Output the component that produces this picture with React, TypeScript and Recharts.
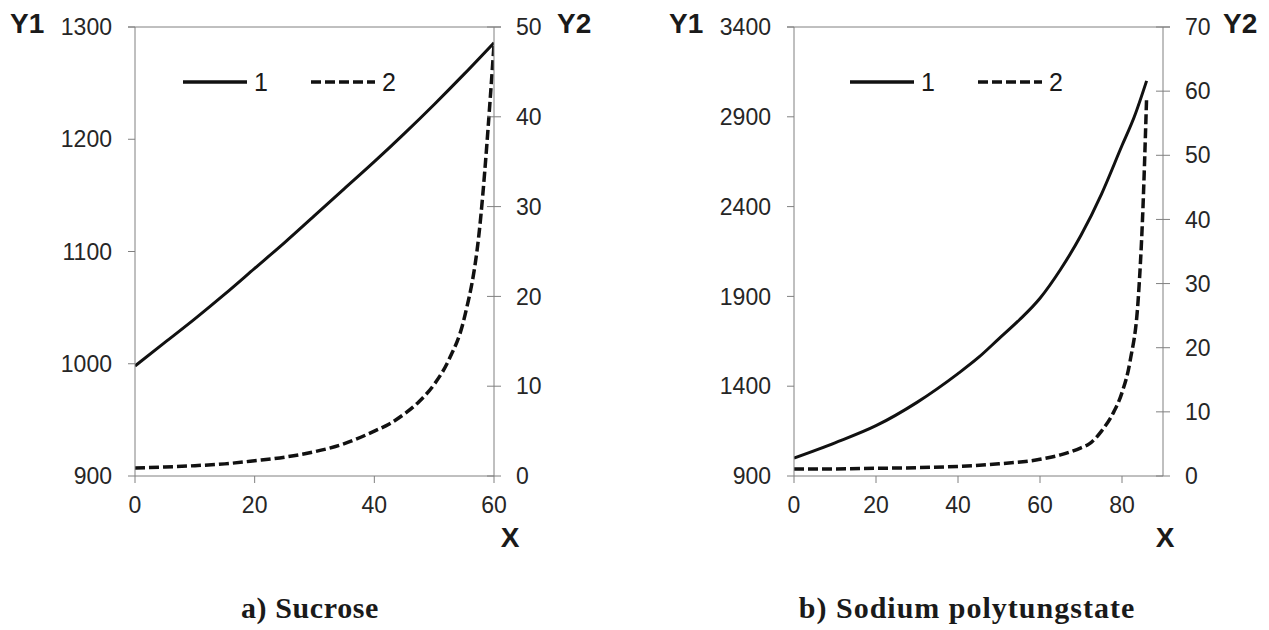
import { LineChart, Line, XAxis, YAxis, Legend, ReferenceLine, Label } from 'recharts';

// a) Sucrose
const sucroseX = [0, 5, 10, 15, 20, 25, 30, 35, 40, 45, 50, 55, 60];
const sucroseDensity = [998, 1019, 1040, 1062, 1085, 1108, 1132, 1156, 1180, 1205, 1231, 1258, 1286];
const sucroseViscX = [0, 5, 10, 15, 20, 25, 30, 35, 40, 42.5, 45, 47.5, 50, 52.5, 55, 57.5, 60];
const sucroseVisc = [0.9, 1.0, 1.15, 1.35, 1.7, 2.1, 2.7, 3.6, 5.0, 5.8, 6.9, 8.3, 10.2, 13, 17.5, 27, 48];

// b) Sodium polytungstate
const sptX = [0, 10, 20, 30, 40, 45, 50, 55, 60, 65, 70, 75, 80, 83, 86];
const sptDensity = [1000, 1085, 1180, 1310, 1470, 1560, 1665, 1770, 1890, 2050, 2240, 2470, 2740, 2900, 3100];
const sptViscX = [0, 10, 20, 30, 40, 50, 60, 65, 70, 72, 75, 78, 80, 82, 84, 85, 86];
const sptVisc = [1.1, 1.1, 1.2, 1.3, 1.5, 1.9, 2.6, 3.3, 4.4, 5, 7, 10, 13, 18, 28, 40, 59];

const sucroseXTicks = [0, 20, 40, 60];
const sucroseY1Ticks = [900, 1000, 1100, 1200, 1300];
const sucroseY2Ticks = [0, 10, 20, 30, 40, 50];
const sptXTicks = [0, 20, 40, 60, 80];
const sptY1Ticks = [900, 1400, 1900, 2400, 2900, 3400];
const sptY2Ticks = [0, 10, 20, 30, 40, 50, 60, 70];

const seriesNames = ['1', '2'];

const toPoints = (xs: number[], ys: number[]) => xs.map((x, i) => ({ x, y: ys[i] }));

const axisColor = '#808080';
const inkColor = '#111111';
const sans = '"Liberation Sans", Arial, sans-serif';
const tickFont = { fontFamily: sans, fontSize: 23, fill: '#262626' };
const titleFont = { fontFamily: sans, fontSize: 28, fontWeight: 700, fill: '#1a1a1a' };
const TICK = 7;

const makeRightTick = (margin: number) => (props: any) => {
  const { x, y, payload } = props;
  const ax = x - TICK - margin;
  return (
    <g>
      <line x1={ax - 7} x2={ax + TICK} y1={y} y2={y} stroke={axisColor} strokeWidth={1} />
      <text x={x} y={y} dy="0.355em" textAnchor="start" {...tickFont}>{payload.value}</text>
    </g>
  );
};

const renderLegend = (props: any) => {
  const items = props.payload || [];
  return (
    <svg width={230} height={40}>
      {items.map((it: any, i: number) => {
        const x0 = i * 128;
        return (
          <g key={i}>
            <line x1={x0} x2={x0 + 64} y1={20} y2={20} stroke={inkColor} strokeWidth={3.5}
              strokeDasharray={it.payload?.strokeDasharray} />
            <text x={x0 + 71} y={29} fontFamily={sans} fontSize={25} fill="#1a1a1a">{it.value}</text>
          </g>
        );
      })}
    </svg>
  );
};

type PanelProps = {
  left: number; width: number; leftAxisW: number; rightAxisW: number;
  density: { x: number; y: number }[]; visc: { x: number; y: number }[];
  xMax: number; xTicks: number[]; y1Ticks: number[]; y2Ticks: number[];
  legendLeft: number; xTitleDx: number; y2TitleDx: number;
};

function Panel(p: PanelProps) {
  const y1Min = p.y1Ticks[0];
  const y1Max = p.y1Ticks[p.y1Ticks.length - 1];
  const y2Max = p.y2Ticks[p.y2Ticks.length - 1];
  const plotW = p.width - p.leftAxisW - p.rightAxisW;
  const ext = (p.xMax * TICK) / plotW; // top border runs out over the tick marks
  return (
    <div style={{ position: 'absolute', left: p.left, top: 0 }}>
      <LineChart width={p.width} height={560} margin={{ top: 27, right: 0, left: 0, bottom: 0 }}>
        <XAxis dataKey="x" type="number" domain={[0, p.xMax]} ticks={p.xTicks} allowDataOverflow
          stroke={axisColor} tickSize={TICK} tickMargin={14} tick={tickFont} height={84}>
          <Label content={(lp: any) => (
            <text x={lp.viewBox.x + lp.viewBox.width + p.xTitleDx} y={lp.viewBox.y + 71}
              textAnchor="middle" {...titleFont}>X</text>
          )} />
        </XAxis>
        <YAxis yAxisId="y1" orientation="left" domain={[y1Min, y1Max]} ticks={p.y1Ticks}
          stroke={axisColor} tickSize={TICK} tickMargin={16} tick={tickFont} width={p.leftAxisW}>
          <Label content={(lp: any) => (
            <text x={lp.viewBox.x + lp.viewBox.width - 125} y={lp.viewBox.y + 6} {...titleFont}>Y1</text>
          )} />
        </YAxis>
        <YAxis yAxisId="y2" orientation="right" domain={[0, y2Max]} ticks={p.y2Ticks}
          stroke={axisColor} tickSize={TICK} tickMargin={15} tickLine={false}
          tick={makeRightTick(15)} width={p.rightAxisW}>
          <Label content={(lp: any) => (
            <text x={lp.viewBox.x + p.y2TitleDx} y={lp.viewBox.y + 6} {...titleFont}>Y2</text>
          )} />
        </YAxis>
        <ReferenceLine yAxisId="y1" ifOverflow="visible" stroke={axisColor} strokeWidth={1}
          segment={[{ x: -ext, y: y1Max }, { x: p.xMax + ext, y: y1Max }]} />
        <Legend layout="vertical" align="center" verticalAlign="middle" content={renderLegend}
          wrapperStyle={{ position: 'absolute', left: p.legendLeft, top: 62, width: 'auto', height: 'auto' }} />
        <Line yAxisId="y1" data={p.density} dataKey="y" name={seriesNames[0]} type="monotone"
          stroke={inkColor} strokeWidth={3} dot={false} activeDot={false} isAnimationActive={false} />
        <Line yAxisId="y2" data={p.visc} dataKey="y" name={seriesNames[1]} type="monotone"
          stroke={inkColor} strokeWidth={3.5} strokeDasharray="10 4" dot={false} activeDot={false}
          isAnimationActive={false} />
      </LineChart>
    </div>
  );
}

const captionStyle = {
  position: 'absolute' as const, top: 593, fontFamily: '"Liberation Serif", "DejaVu Serif", serif',
  fontWeight: 700, fontSize: 30, lineHeight: '30px', color: '#1a1a1a', textAlign: 'center' as const,
  whiteSpace: 'nowrap' as const,
};

export default function App() {
  return (
    <div style={{ position: 'absolute', left: 0, top: 0, width: 1269, height: 630, background: '#fff' }}>
      <Panel left={0} width={634} leftAxisW={135} rightAxisW={140}
        density={toPoints(sucroseX, sucroseDensity)} visc={toPoints(sucroseViscX, sucroseVisc)}
        xMax={60} xTicks={sucroseXTicks} y1Ticks={sucroseY1Ticks} y2Ticks={sucroseY2Ticks}
        legendLeft={183} xTitleDx={16} y2TitleDx={63} />
      <Panel left={660} width={609} leftAxisW={134} rightAxisW={106}
        density={toPoints(sptX, sptDensity)} visc={toPoints(sptViscX, sptVisc)}
        xMax={90} xTicks={sptXTicks} y1Ticks={sptY1Ticks} y2Ticks={sptY2Ticks}
        legendLeft={190} xTitleDx={2} y2TitleDx={60} />
      <div style={{ ...captionStyle, left: 110, width: 400, letterSpacing: 0.6 }}>a) Sucrose</div>
      <div style={{ ...captionStyle, left: 767, width: 400, letterSpacing: 1.0 }}>b) Sodium polytungstate</div>
    </div>
  );
}
